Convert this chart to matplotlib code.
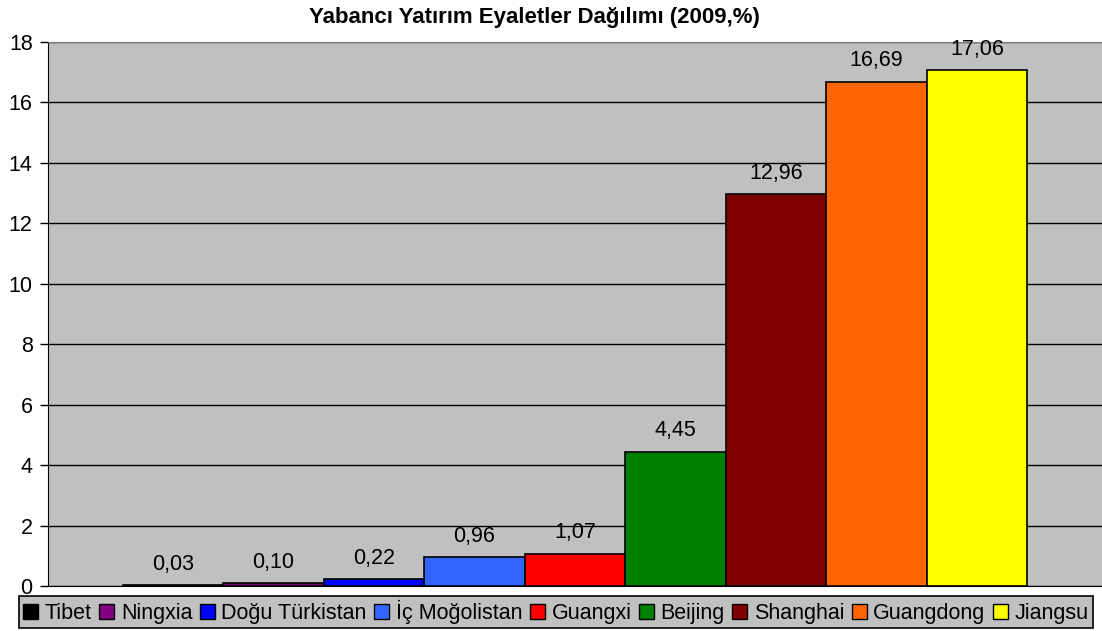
import matplotlib.pyplot as plt
from matplotlib.patches import Patch

provinces = ['Tibet', 'Ningxia', 'Doğu Türkistan', 'İç Moğolistan', 'Guangxi',
             'Beijing', 'Shanghai', 'Guangdong', 'Jiangsu']
shares = [0.03, 0.10, 0.22, 0.96, 1.07, 4.45, 12.96, 16.69, 17.06]
colors = ['#000000', '#800080', '#0000FF', '#3366FF', '#FF0000',
          '#008000', '#800000', '#FF6600', '#FFFF00']
yticks = list(range(0, 19, 2))

plt.rcParams['font.family'] = ['Liberation Sans', 'DejaVu Sans']

fig = plt.figure(figsize=(11.02, 6.31), dpi=100)
ax = fig.add_axes([48 / 1102, 45 / 631, 1054 / 1102, 544 / 631])
ax.set_facecolor('#C0C0C0')

n = len(shares)
w = 0.0954
for i, (name, val, c) in enumerate(zip(provinces, shares, colors)):
    x = (i - (n - 1) / 2) * w
    ax.bar(x, val, width=w, color=c, edgecolor='black', linewidth=1.2, zorder=3)
    ax.annotate(f'{val:.2f}'.replace('.', ','), (x, val), xytext=(0, 15),
                textcoords='offset points', ha='center', va='center', fontsize=15.5)

ax.set_xlim(-0.5, 0.5)
ax.set_ylim(0, 18)
ax.set_yticks(yticks)
ax.tick_params(axis='y', direction='out', length=6, width=1, pad=5, labelsize=15.5)
ax.set_xticks([])
ax.grid(axis='y', color='black', linewidth=1, zorder=0)

ax.spines['top'].set_color('#808080')
ax.spines['right'].set_visible(False)
ax.spines['left'].set_color('black')
ax.spines['bottom'].set_color('black')

fig.text(534 / 1102, 1 - 17 / 631, 'Yabancı Yatırım Eyaletler Dağılımı (2009,%)',
         ha='center', va='center', fontsize=16, fontweight='bold')

handles = [Patch(facecolor=c, edgecolor='black', linewidth=1) for c in colors]
leg = fig.legend(handles, provinces, ncol=n, loc='center', bbox_to_anchor=(556 / 1102, 1 - 612 / 631),
                 fontsize=15.5, frameon=True, fancybox=False, framealpha=1,
                 handlelength=0.7, handleheight=0.7, handletextpad=0.3,
                 columnspacing=0.35, borderpad=0.2, borderaxespad=0)
leg.get_frame().set_facecolor('#C0C0C0')
leg.get_frame().set_edgecolor('black')
leg.get_frame().set_linewidth(1.2)

fig.savefig('out.png', dpi=100)
